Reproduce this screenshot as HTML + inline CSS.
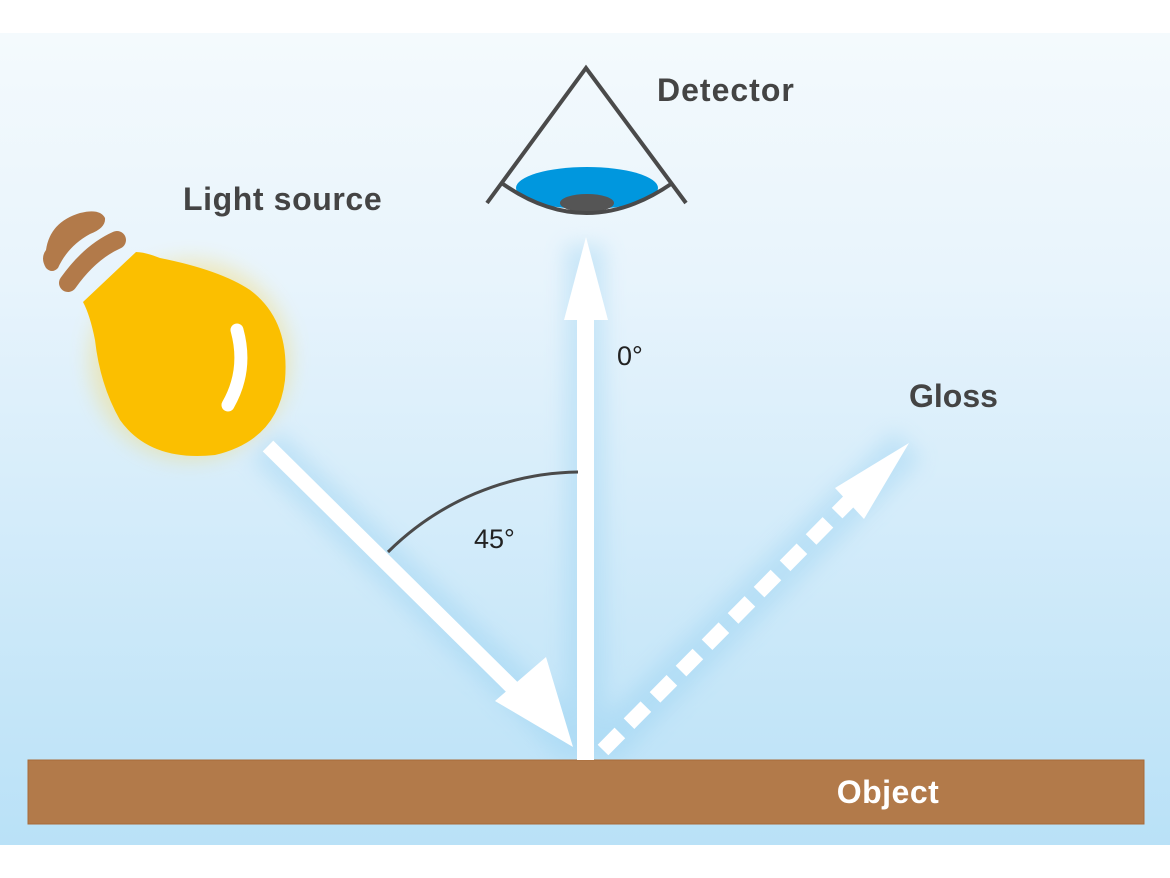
<!DOCTYPE html>
<html><head><meta charset="utf-8"><style>
html,body{margin:0;padding:0;background:#fff;}
svg{display:block}
text{font-family:"Liberation Sans",sans-serif;}
</style></head><body>
<svg width="1170" height="878" viewBox="0 0 1170 878">
<defs>
<linearGradient id="bg" x1="0" y1="0" x2="0" y2="1">
<stop offset="0" stop-color="#f4fafd"/>
<stop offset="0.3" stop-color="#e8f4fc"/>
<stop offset="1" stop-color="#b9e1f7"/>
</linearGradient>
<filter id="glow" x="-50%" y="-50%" width="200%" height="200%"><feGaussianBlur stdDeviation="10"/></filter>
<clipPath id="eye"><path d="M505 185 Q586 242 670 185 L670 150 L505 150 Z"/></clipPath>
</defs>
<rect x="0" y="33" width="1170" height="812" fill="url(#bg)"/>
<g filter="url(#glow)" opacity="0.35">
<circle cx="190" cy="360" r="100" fill="#f8d24a"/>
<path d="M265 445 L575 745" stroke="#8fcdf0" stroke-width="40"/>
<path d="M585 245 L585 760" stroke="#8fcdf0" stroke-width="40"/>
<path d="M600 750 L908 445" stroke="#8fcdf0" stroke-width="40"/>
</g>
<rect x="28" y="760" width="1116" height="64" fill="#b27a4a" stroke="#a86a38" stroke-width="1"/>
<text x="888" y="803" font-size="32" font-weight="bold" fill="#fff" text-anchor="middle" letter-spacing="0.5">Object</text>
<rect x="577" y="318" width="17" height="442" fill="#fff"/>
<polygon points="586,237 564,320 608,320" fill="#fff"/>
<line x1="268" y1="446" x2="525" y2="700" stroke="#fff" stroke-width="15"/>
<polygon points="573,747 495,701 546,657" fill="#fff"/>
<line x1="603" y1="750" x2="858" y2="492" stroke="#fff" stroke-width="15" stroke-dasharray="24,13"/>
<polygon points="909,443 835,488 864,519" fill="#fff"/>
<path d="M388 552 A275 275 0 0 1 578 472" fill="none" stroke="#4a4a4a" stroke-width="3"/>
<text x="474" y="548" font-size="27" fill="#222">45°</text>
<text x="617" y="365" font-size="27" fill="#222">0°</text>
<ellipse cx="587" cy="188" rx="71" ry="21" fill="#0097de" clip-path="url(#eye)"/>
<ellipse cx="587" cy="203" rx="27" ry="9" fill="#555"/>
<path d="M487 203 L586 68 L686 203" fill="none" stroke="#4a4a4a" stroke-width="4"/>
<path d="M503 184 Q586 242 671 184" fill="none" stroke="#4a4a4a" stroke-width="4"/>
<text x="657" y="101" font-size="32" font-weight="bold" fill="#444" letter-spacing="1">Detector</text>
<text x="183" y="210" font-size="32" font-weight="bold" fill="#444" letter-spacing="0.6">Light source</text>
<text x="909" y="407" font-size="32" font-weight="bold" fill="#444">Gloss</text>
<path d="M83 302 L136 252 Q145 252 160 258 Q220 270 250 290 Q290 320 285 380 Q278 440 215 455 Q150 462 120 420 Q100 385 95 340 Q90 315 83 302 Z" fill="#fbbf00"/>
<path d="M237 330 Q248 370 228 405" fill="none" stroke="#fff" stroke-width="13" stroke-linecap="round"/>
<path d="M46 268 Q40 258 46 250 Q50 222 80 213 Q100 208 105 218 Q106 228 90 234 Q68 246 58 268 Q52 274 46 268 Z" fill="#b27a4a"/>
<path d="M68 283 Q90 252 117 240" fill="none" stroke="#b27a4a" stroke-width="18" stroke-linecap="round"/>
</svg>
</body></html>
